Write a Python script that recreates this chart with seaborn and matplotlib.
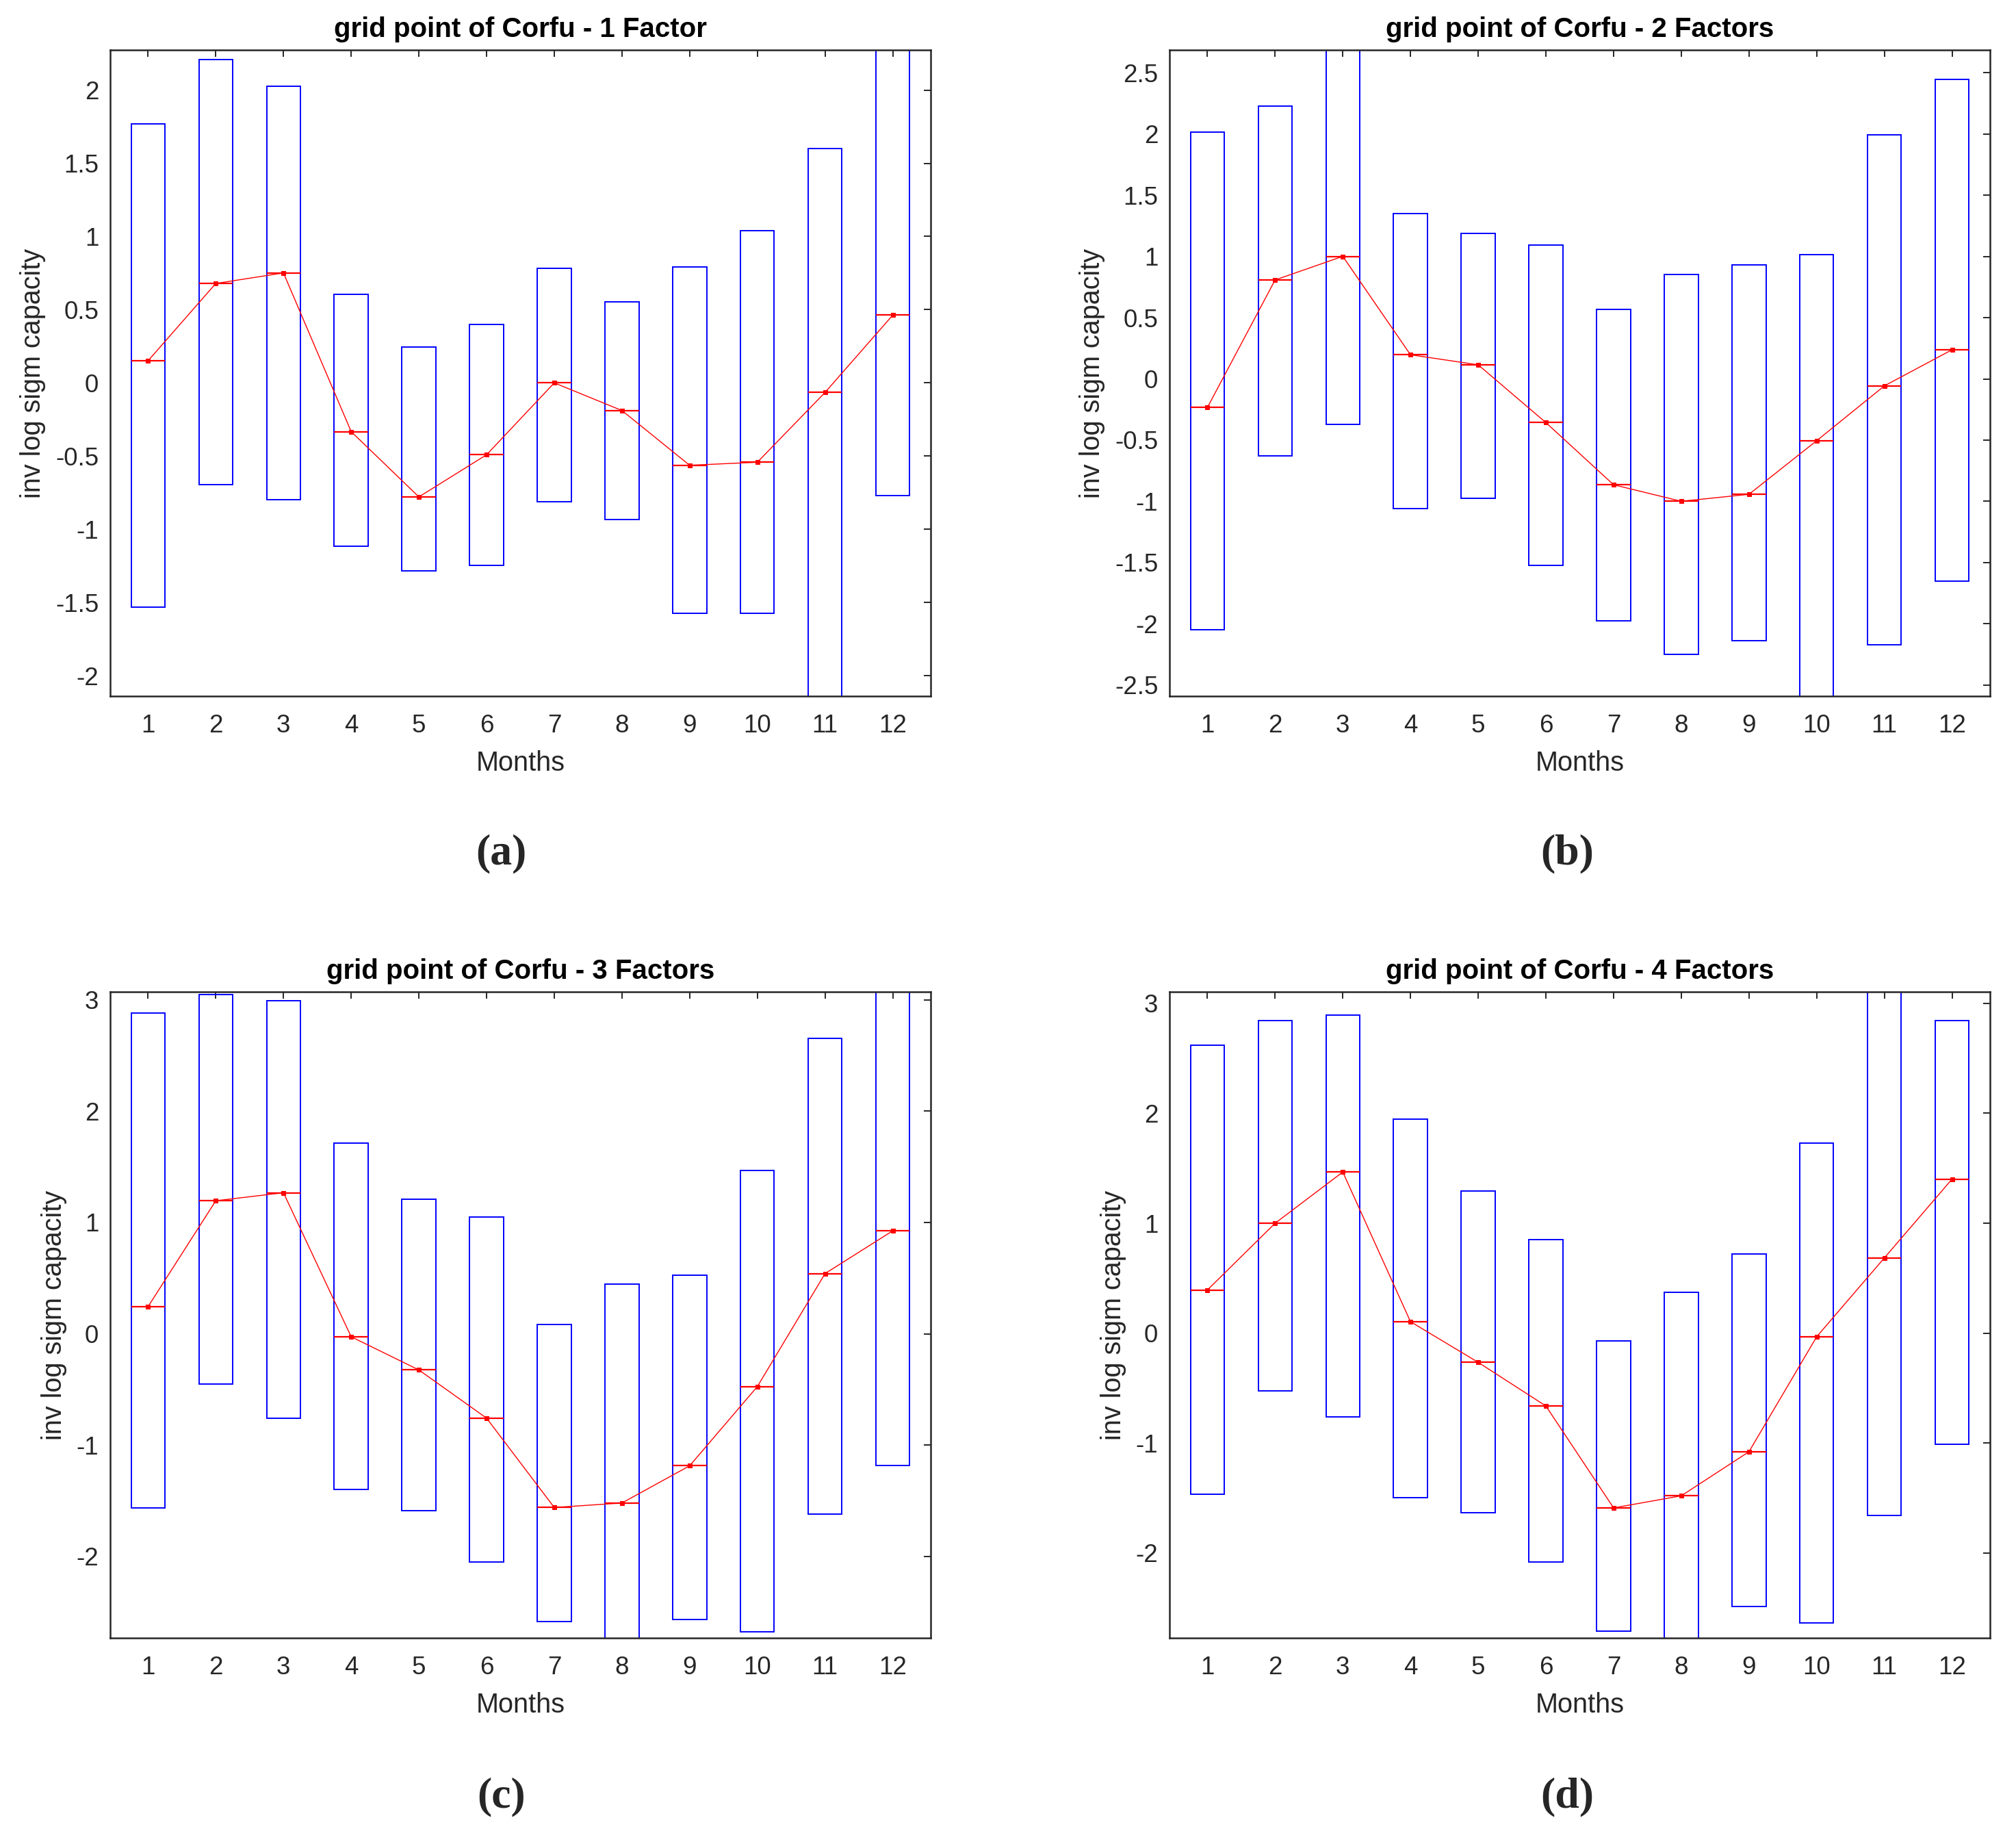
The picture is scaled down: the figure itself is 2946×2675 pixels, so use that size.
import numpy as np
import pandas as pd
import seaborn as sns
import matplotlib
matplotlib.use('Agg')
import matplotlib.pyplot as plt


# DATA
months = list(range(1, 13))

titles = ['grid point of Corfu - 1 Factor', 'grid point of Corfu - 2 Factors',
          'grid point of Corfu - 3 Factors', 'grid point of Corfu - 4 Factors']
panel_tags = ['(a)', '(b)', '(c)', '(d)']

# box upper edge, lower edge and median, per month
top_1f = [1.767, 2.209, 2.024, 0.604, 0.247, 0.398, 0.782, 0.552, 0.792, 1.039, 1.599, 2.60]
low_1f = [-1.533, -0.696, -0.799, -1.118, -1.286, -1.245, -0.810, -0.933, -1.575, -1.575, -2.50, -0.768]
med_1f = [0.151, 0.679, 0.751, -0.333, -0.779, -0.491, 0.0, -0.189, -0.563, -0.542, -0.065, 0.463]

top_2f = [2.018, 2.227, 2.90, 1.349, 1.189, 1.091, 0.566, 0.853, 0.931, 1.013, 1.993, 2.449]
low_2f = [-2.051, -0.628, -0.373, -1.062, -0.976, -1.522, -1.977, -2.248, -2.137, -2.90, -2.174, -1.653]
med_2f = [-0.234, 0.808, 1.001, 0.197, 0.115, -0.357, -0.865, -1.0, -0.943, -0.505, -0.057, 0.238]

top_3f = [2.882, 3.05, 2.991, 1.710, 1.209, 1.046, 0.081, 0.447, 0.528, 1.466, 2.652, 3.30]
low_3f = [-1.565, -0.451, -0.758, -1.398, -1.588, -2.052, -2.585, -2.90, -2.567, -2.675, -1.619, -1.182]
med_3f = [0.244, 1.195, 1.267, -0.027, -0.325, -0.758, -1.561, -1.520, -1.186, -0.474, 0.541, 0.925]

top_4f = [2.621, 2.845, 2.895, 1.950, 1.292, 0.849, -0.073, 0.370, 0.721, 1.726, 3.30, 2.845]
low_4f = [-1.466, -0.525, -0.763, -1.493, -1.630, -2.082, -2.712, -3.0, -2.484, -2.635, -1.658, -1.009]
med_4f = [0.393, 1.0, 1.466, 0.105, -0.265, -0.662, -1.589, -1.479, -1.078, -0.032, 0.685, 1.402]

ylim_1f = (-2.14, 2.274)
ylim_2f = (-2.592, 2.687)
ylim_3f = (-2.733, 3.072)
ylim_4f = (-2.772, 3.105)

yticks_1f = [-2, -1.5, -1, -0.5, 0, 0.5, 1, 1.5, 2]
yticks_2f = [-2.5, -2, -1.5, -1, -0.5, 0, 0.5, 1, 1.5, 2, 2.5]
yticks_3f = [-2, -1, 0, 1, 2, 3]
yticks_4f = [-2, -1, 0, 1, 2, 3]


sns.set_style('white')
plt.rcParams['font.family'] = ['Liberation Sans', 'DejaVu Sans']
plt.rcParams['axes.unicode_minus'] = False

fig = plt.figure(figsize=(29.46, 26.75), dpi=100)

# axes positions [left, bottom, width, height] in figure fraction
positions = [[0.05465, 0.6198, 0.4070, 0.3529],
             [0.5801, 0.6198, 0.4070, 0.3529],
             [0.05465, 0.10542, 0.4070, 0.3529],
             [0.5801, 0.10542, 0.4070, 0.3529]]
tag_xy = [(0.2485, 0.5338), (0.7773, 0.5338), (0.2485, 0.0186), (0.7773, 0.0186)]

panels = [(top_1f, low_1f, med_1f, ylim_1f, yticks_1f),
          (top_2f, low_2f, med_2f, ylim_2f, yticks_2f),
          (top_3f, low_3f, med_3f, ylim_3f, yticks_3f),
          (top_4f, low_4f, med_4f, ylim_4f, yticks_4f)]

grey = '#262626'

for i, (top, low, med, ylim, yticks) in enumerate(panels):
    ax = fig.add_axes(positions[i])

    df = pd.DataFrame({'month': months, 'top': top, 'low': low, 'median': med})

    # boxes (only outlines)
    ax.bar(df['month'], df['top'] - df['low'], bottom=df['low'], width=0.5,
           fill=False, edgecolor='#0000ff', linewidth=1.4, zorder=2)

    # median segments
    ax.hlines(df['median'], df['month'] - 0.25, df['month'] + 0.25,
              color='#ff0000', linewidth=1.6, zorder=3)

    # line through the medians
    sns.lineplot(data=df, x='month', y='median', ax=ax, color='#ff0000',
                 linewidth=1.0, marker='s', markersize=4.5,
                 markeredgecolor='#ff0000', zorder=4)

    ax.set_xlim(0.44, 12.56)
    ax.set_ylim(*ylim)
    ax.set_xticks(months)
    ax.set_xticklabels([str(m) for m in months])
    ax.set_yticks(yticks)
    ax.set_yticklabels(['%g' % t for t in yticks])

    ax.tick_params(axis='both', direction='in', length=7.2, width=1.4,
                   color=grey, labelcolor=grey, labelsize=26.5,
                   top=True, right=True)
    ax.tick_params(axis='x', pad=19)
    ax.tick_params(axis='y', pad=12)

    for sp in ax.spines.values():
        sp.set_color(grey)
        sp.set_linewidth(1.8)
        sp.set_visible(True)

    ax.set_xlabel('Months', fontsize=28.5, color=grey, labelpad=13)
    ax.set_ylabel('inv log sigm capacity', fontsize=28.5, color=grey, labelpad=10)
    ax.set_title(titles[i], fontsize=29, fontweight='bold', color='black', pad=14)

    fig.text(tag_xy[i][0], tag_xy[i][1], panel_tags[i], ha='center', va='center',
             fontsize=46, fontweight='bold', family='Liberation Serif')

fig.savefig('out.png', dpi=100, facecolor='white')
